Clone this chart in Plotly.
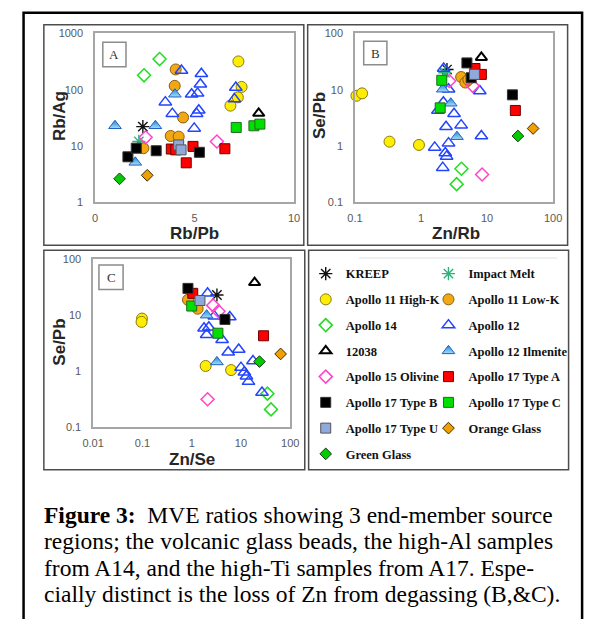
import plotly.graph_objects as go

W, H = 594, 619

categories = ["KREEP", "Impact Melt", "Apollo 11 High-K", "Apollo 11 Low-K", "Apollo 14",
              "Apollo 12", "12038", "Apollo 12 Ilmenite", "Apollo 15 Olivine", "Apollo 17 Type A",
              "Apollo 17 Type B", "Apollo 17 Type C", "Apollo 17 Type U", "Orange Glass", "Green Glass"]

# Panel A: Rb/Pb (x) vs Rb/Ag (y)
a_rb_pb = {
    "KREEP": [2.4], "Impact Melt": [2.2],
    "Apollo 11 High-K": [7.2, 7.36, 7.17, 6.8],
    "Apollo 11 Low-K": [4.05, 4.0, 4.42, 3.8, 4.2, 2.43],
    "Apollo 14": [3.24, 2.46],
    "Apollo 12": [4.34, 5.34, 5.29, 5.15, 4.85, 3.53, 3.88, 5.21, 5.1, 4.98, 7.07, 7.0],
    "12038": [8.22],
    "Apollo 12 Ilmenite": [1.0, 3.03, 4.01, 2.02],
    "Apollo 15 Olivine": [2.54, 6.12],
    "Apollo 17 Type A": [3.83, 4.05, 4.58, 4.92, 6.52],
    "Apollo 17 Type B": [1.65, 2.07, 3.07, 5.24],
    "Apollo 17 Type C": [7.09, 7.98, 8.28],
    "Apollo 17 Type U": [4.2, 4.32],
    "Orange Glass": [2.62], "Green Glass": [1.23],
}
a_rb_ag = {
    "KREEP": [22], "Impact Melt": [12],
    "Apollo 11 High-K": [318, 112, 73, 52],
    "Apollo 11 Low-K": [229, 117, 32, 15, 14.6, 9.1],
    "Apollo 14": [350, 180],
    "Apollo 12": [219, 192, 125, 86, 83, 60, 37.5, 43, 37.5, 20.5, 109, 68],
    "12038": [38],
    "Apollo 12 Ilmenite": [22.8, 22.8, 83, 5.1],
    "Apollo 15 Olivine": [14.2, 12.0],
    "Apollo 17 Type A": [8.8, 8.5, 5.0, 9.8, 8.9],
    "Apollo 17 Type B": [6.4, 9.1, 8.2, 7.7],
    "Apollo 17 Type C": [21.3, 22.8, 24.4],
    "Apollo 17 Type U": [10.4, 8.5],
    "Orange Glass": [3.0], "Green Glass": [2.6],
}

# Panel B: Zn/Rb (x) vs Se/Pb (y)
b_zn_rb = {
    "KREEP": [2.47], "Impact Melt": [2.3],
    "Apollo 11 High-K": [0.105, 0.128, 0.333, 0.93],
    "Apollo 11 Low-K": [4.05, 4.69, 5.2],
    "Apollo 14": [4.09, 3.46],
    "Apollo 12": [2.2, 2.61, 7.76, 1.8, 2.18, 3.16, 2.39, 4.05, 8.2, 1.61, 2.61, 2.33, 2.44, 2.13],
    "12038": [8.2],
    "Apollo 12 Ilmenite": [2.13, 2.82, 3.5],
    "Apollo 15 Olivine": [2.67, 6.07, 8.4],
    "Apollo 17 Type A": [6.56, 8.2, 26.8],
    "Apollo 17 Type B": [4.95, 5.74, 24.2],
    "Apollo 17 Type C": [2.06, 1.95],
    "Apollo 17 Type U": [6.43],
    "Orange Glass": [49.8], "Green Glass": [29.3],
}
b_se_pb = {
    "KREEP": [22.8], "Impact Melt": [20],
    "Apollo 11 High-K": [7.8, 8.6, 1.19, 1.04],
    "Apollo 11 Low-K": [16.8, 13.4, 15],
    "Apollo 14": [0.393, 0.209],
    "Apollo 12": [23.8, 10.2, 9.5, 4.27, 5.97, 3.74, 2.19, 2.34, 1.5, 0.94, 1.12, 0.75, 0.65, 0.41],
    "12038": [37.5],
    "Apollo 12 Ilmenite": [10.2, 5.74, 1.46],
    "Apollo 15 Olivine": [14.3, 11.7, 0.31],
    "Apollo 17 Type A": [23.8, 18.7, 4.27],
    "Apollo 17 Type B": [29.9, 16.3, 8.1],
    "Apollo 17 Type C": [14.7, 4.75],
    "Apollo 17 Type U": [18.7],
    "Orange Glass": [2.04], "Green Glass": [1.5],
}

# Panel C: Zn/Se (x) vs Se/Pb (y)
c_zn_se = {
    "KREEP": [3.25], "Impact Melt": [],
    "Apollo 11 High-K": [0.098, 0.096, 1.92, 6.3],
    "Apollo 11 Low-K": [0.84, 1.32],
    "Apollo 14": [34.4, 40.6],
    "Apollo 12": [2.1, 2.88, 5.93, 1.78, 2.23, 2.01, 4.14, 5.5, 9.0, 17.5, 10.0, 11.7, 12.9, 14.2, 26.7],
    "12038": [18.9],
    "Apollo 12 Ilmenite": [2.01, 3.25],
    "Apollo 15 Olivine": [2.72, 3.5, 2.1],
    "Apollo 17 Type A": [1.05, 28.7],
    "Apollo 17 Type B": [0.84, 4.73],
    "Apollo 17 Type C": [1.0, 3.4],
    "Apollo 17 Type U": [1.47],
    "Orange Glass": [63.7], "Green Glass": [23.7],
}
c_se_pb = {
    "KREEP": [22.7], "Impact Melt": [],
    "Apollo 11 High-K": [8.6, 7.5, 1.22, 1.03],
    "Apollo 11 Low-K": [18.6, 12.9],
    "Apollo 14": [0.39, 0.204],
    "Apollo 12": [24.3, 9.5, 9.2, 5.75, 6.0, 4.4, 3.6, 2.15, 2.4, 1.5, 1.14, 0.94, 0.80, 0.64, 0.41],
    "12038": [37.9],
    "Apollo 12 Ilmenite": [9.9, 1.44],
    "Apollo 15 Olivine": [14.8, 11.6, 0.31],
    "Apollo 17 Type A": [24.3, 4.23],
    "Apollo 17 Type B": [29.8, 8.3],
    "Apollo 17 Type C": [14.4, 4.7],
    "Apollo 17 Type U": [18.1],
    "Orange Glass": [2.0], "Green Glass": [1.46],
}

lin_ticks = [0, 5, 10]
log_ticks_a = [1, 10, 100, 1000]
log_ticks_se = [0.1, 1, 10, 100]
log_ticks_znse = [0.01, 0.1, 1, 10, 100]

caption_lines = [
    "<b>Figure 3:</b>\u00a0 MVE ratios showing 3 end-member source",
    "regions; the volcanic glass beads, the high-Al samples",
    "from A14, and the high-Ti samples from A17. Espe-",
    "cially distinct is the loss of Zn from degassing (B,&C).",
]

# ---------------- styles ----------------
styles = {
    "KREEP": dict(symbol="asterisk-open", size=11, color="#111111", line=dict(color="#111111", width=1.4)),
    "Impact Melt": dict(symbol="asterisk-open", size=11, color="#2DB37A", line=dict(color="#2DB37A", width=1.4)),
    "Apollo 11 High-K": dict(symbol="circle", size=11, color="#FFEE00", line=dict(color="#8A7A10", width=1)),
    "Apollo 11 Low-K": dict(symbol="circle", size=11, color="#F2A812", line=dict(color="#8A5E10", width=1)),
    "Apollo 14": dict(symbol="diamond-open", size=10, color="#22DD22", line=dict(color="#22DD22", width=1.5)),
    "Apollo 12": dict(symbol="triangle-up-open", size=11, color="#2244FF", line=dict(color="#2244FF", width=1.5)),
    "12038": dict(symbol="triangle-up-open", size=10, color="#000000", line=dict(color="#000000", width=2)),
    "Apollo 12 Ilmenite": dict(symbol="triangle-up", size=11, color="#1A88D0",
                               gradient=dict(type="vertical", color="#A8DDF7"),
                               line=dict(color="#1F5FBF", width=1)),
    "Apollo 15 Olivine": dict(symbol="diamond-open", size=10, color="#FF44CC", line=dict(color="#FF44CC", width=1.5)),
    "Apollo 17 Type A": dict(symbol="square", size=10, color="#FF0000", line=dict(color="#700000", width=1)),
    "Apollo 17 Type B": dict(symbol="square", size=10, color="#000000", line=dict(color="#333333", width=1)),
    "Apollo 17 Type C": dict(symbol="square", size=10, color="#00E000", line=dict(color="#1E6B1E", width=1)),
    "Apollo 17 Type U": dict(symbol="square", size=10, color="#8EA9DB", line=dict(color="#555555", width=1)),
    "Orange Glass": dict(symbol="diamond", size=9, color="#F0A000", line=dict(color="#3A2A00", width=1)),
    "Green Glass": dict(symbol="diamond", size=9, color="#00CC00", line=dict(color="#1A3A1A", width=1)),
}


def px(x):
    return x / W


def py(y):
    return 1 - y / H


fig = go.Figure()
panels = [("x", "y", a_rb_pb, a_rb_ag), ("x2", "y2", b_zn_rb, b_se_pb), ("x3", "y3", c_zn_se, c_se_pb)]
for pi, (xa, ya, xd, yd) in enumerate(panels):
    for ci, cat in enumerate(categories):
        fig.add_trace(go.Scatter(
            x=xd[cat], y=yd[cat], mode="markers", name=cat, legendgroup=cat,
            showlegend=(pi == 0), legend=("legend" if ci % 2 == 0 else "legend2"),
            marker=styles[cat], xaxis=xa, yaxis=ya, cliponaxis=False,
        ))

tick_font = dict(family="Liberation Sans, Arial", size=11, color="#595959")
common = dict(showline=True, mirror=True, linecolor="#A6A6A6", linewidth=1.5, showgrid=False,
              zeroline=False, ticks="", tickfont=tick_font, tickmode="array", fixedrange=True)
legend_font = dict(family="Liberation Serif, Times New Roman", size=12.5, color="#111111", weight="bold")

fig.update_layout(
    width=W, height=H, margin=dict(l=0, r=0, t=0, b=0),
    paper_bgcolor="white", plot_bgcolor="white",
    xaxis=dict(domain=[px(87), px(293)], range=[0, 10], tickvals=lin_ticks, anchor="y",
               ticklabelstandoff=5, **common),
    yaxis=dict(domain=[py(200), py(28)], type="log", range=[0, 3], tickvals=log_ticks_a,
               ticktext=[str(v) for v in log_ticks_a], anchor="x", ticklabelstandoff=8, **common),
    xaxis2=dict(domain=[px(356), px(561)], type="log", range=[-1, 2], tickvals=log_ticks_se,
                ticktext=["0.1", "1", "10", "100"], anchor="y2", ticklabelstandoff=5, **common),
    yaxis2=dict(domain=[py(200), py(28)], type="log", range=[-1, 2], tickvals=log_ticks_se,
                ticktext=["0.1", "1", "10", "100"], anchor="x2", ticklabelstandoff=8, **common),
    xaxis3=dict(domain=[px(85), px(289)], type="log", range=[-2, 2], tickvals=log_ticks_znse,
                ticktext=["0.01", "0.1", "1", "10", "100"], anchor="y3", ticklabelstandoff=5, **common),
    yaxis3=dict(domain=[py(429), py(258)], type="log", range=[-1, 2], tickvals=log_ticks_se,
                ticktext=["0.1", "1", "10", "100"], anchor="x3", ticklabelstandoff=8, **common),
    legend=dict(x=px(305), y=py(258), xanchor="left", yanchor="top", bgcolor="rgba(0,0,0,0)",
                font=legend_font, tracegroupgap=6.5, itemclick=False, itemdoubleclick=False),
    legend2=dict(x=px(432), y=py(258), xanchor="left", yanchor="top", bgcolor="rgba(0,0,0,0)",
                 font=legend_font, tracegroupgap=6.5, itemclick=False, itemdoubleclick=False),
)

shapes = []
# outer frame
shapes.append(dict(type="rect", xref="paper", yref="paper", x0=px(13), x1=px(591), y0=py(640), y1=py(7),
                   line=dict(color="black", width=2.5), layer="below"))
# panel frames
for (x0, y0, x1, y1) in [(34, 19, 303, 244), (307, 19, 576, 244), (34, 249, 304, 473), (308, 249, 577, 473)]:
    shapes.append(dict(type="rect", xref="paper", yref="paper", x0=px(x0), x1=px(x1), y0=py(y1), y1=py(y0),
                       line=dict(color="#4D4D4D", width=1.5), layer="below"))
# faint line at top of legend panel
shapes.append(dict(type="line", xref="paper", yref="paper", x0=px(360), x1=px(565), y0=py(257), y1=py(257),
                   line=dict(color="#E0E0E0", width=1)))
# panel label boxes
label_boxes = [("A", 95, 37, 119, 62), ("B", 365, 36, 389, 60), ("C", 91, 264, 116, 289)]
annotations = []
for (lab, x0, y0, x1, y1) in label_boxes:
    shapes.append(dict(type="rect", xref="paper", yref="paper", x0=px(x0), x1=px(x1), y0=py(y1), y1=py(y0),
                       line=dict(color="#8C8C8C", width=1.5), fillcolor="white"))
    annotations.append(dict(x=px((x0 + x1) / 2), y=py((y0 + y1) / 2), xref="paper", yref="paper", text=lab,
                            showarrow=False, font=dict(family="Liberation Serif", size=13, color="#333333"),
                            xanchor="center", yanchor="middle"))

title_font = dict(family="Liberation Sans, Arial", size=17, color="#262626")
axis_titles = [("Rb/Ag", 51, 112, -90), ("Rb/Pb", 190, 232, 0), ("Se/Pb", 320, 112, -90),
               ("Zn/Rb", 460, 232, 0), ("Se/Pb", 50, 343, -90), ("Zn/Se", 187, 462, 0)]
for (t, x, y, ang) in axis_titles:
    annotations.append(dict(x=px(x), y=py(y), xref="paper", yref="paper", text="<b>" + t + "</b>",
                            showarrow=False, font=title_font, textangle=ang,
                            xanchor="center", yanchor="middle"))

for i, line in enumerate(caption_lines):
    annotations.append(dict(x=px(32), y=py(519 + 27 * i), xref="paper", yref="paper", text=line,
                            showarrow=False, xanchor="left", yanchor="middle",
                            font=dict(family="Liberation Serif, Times New Roman", size=23.5, color="black")))

fig.update_layout(shapes=shapes, annotations=annotations)
fig.write_html("out.html", config={"displayModeBar": False},
               post_script="document.body.style.margin='0px';document.body.style.overflow='hidden';")
